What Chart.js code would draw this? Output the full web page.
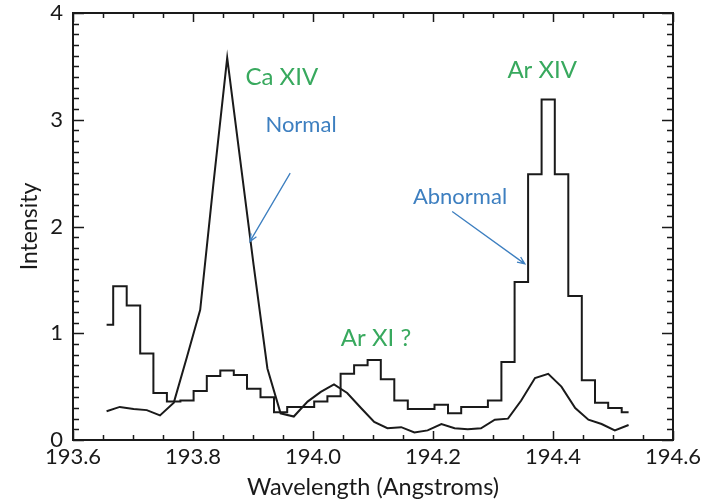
<!DOCTYPE html>
<html>
<head>
<meta charset="utf-8">
<script src="https://cdn.jsdelivr.net/npm/chart.js@4.4.1/dist/chart.umd.min.js"></script>
<style>
  html, body { margin: 0; padding: 0; background: #fff; }
  #wrap { width: 713px; height: 502px; }
</style>
</head>
<body>
<div id="wrap"><canvas id="chart"></canvas></div>
<script>
// wavelength grid (Angstroms), one entry per detector pixel
const wavelengths = [
  193.656, 193.678, 193.701, 193.723, 193.745, 193.768, 193.790, 193.812, 193.834, 193.857,
  193.879, 193.901, 193.924, 193.946, 193.968, 193.991, 194.013, 194.035, 194.057, 194.080,
  194.102, 194.124, 194.147, 194.169, 194.191, 194.214, 194.236, 194.258, 194.280, 194.303,
  194.325, 194.347, 194.370, 194.392, 194.414, 194.437, 194.459, 194.481, 194.503, 194.526
];
// "Normal" spectrum (plain line)
const normal = [
  0.27, 0.31, 0.29, 0.28, 0.23, 0.35, 0.78, 1.22, 2.40, 3.58,
  2.61, 1.64, 0.67, 0.25, 0.22, 0.36, 0.45, 0.52, 0.44, 0.30,
  0.17, 0.11, 0.12, 0.07, 0.09, 0.15, 0.11, 0.10, 0.11, 0.19,
  0.20, 0.37, 0.58, 0.62, 0.50, 0.30, 0.19, 0.15, 0.09, 0.14
];
// "Abnormal" spectrum (histogram steps)
const abnormal = [
  1.08, 1.44, 1.26, 0.81, 0.44, 0.36, 0.37, 0.46, 0.60, 0.65,
  0.61, 0.48, 0.40, 0.26, 0.31, 0.31, 0.36, 0.41, 0.62, 0.70,
  0.75, 0.57, 0.37, 0.29, 0.29, 0.33, 0.25, 0.31, 0.31, 0.37,
  0.73, 1.48, 2.49, 3.19, 2.49, 1.35, 0.56, 0.35, 0.30, 0.26
];
const xTicks = [193.6, 193.8, 194.0, 194.2, 194.4, 194.6];
const yTicks = [0, 1, 2, 3, 4];

const GREEN = '#38a95e';
const BLUE = '#3d7fc0';
const INK = '#1a1a1a';

// labels placed in data coordinates
const notes = [
  { text: 'Ca XIV', x: 193.948, y: 3.40, color: GREEN, size: 24 },
  { text: 'Ar XIV', x: 194.382, y: 3.46, color: GREEN, size: 24 },
  { text: 'Ar XI ?', x: 194.105, y: 0.955, color: GREEN, size: 24 },
  { text: 'Normal', x: 193.980, y: 2.95, color: BLUE, size: 22 },
  { text: 'Abnormal', x: 194.245, y: 2.28, color: BLUE, size: 22 }
];
const arrows = [
  { from: [193.962, 2.50], to: [193.895, 1.86] },
  { from: [194.232, 2.14], to: [194.353, 1.65] }
];

const frame = {
  id: 'frame',
  afterDatasetsDraw(chart) {
    const { ctx, chartArea: a, scales: { x, y } } = chart;
    ctx.save();
    ctx.strokeStyle = INK;
    ctx.lineWidth = 1.5;
    ctx.beginPath();
    // inward ticks on all four sides
    for (let k = 0; k <= 20; k++) {
      const px = Math.round(x.getPixelForValue(193.6 + k * 0.05)) + 0.5;
      const len = k % 4 === 0 ? 9 : 5;
      ctx.moveTo(px, a.bottom); ctx.lineTo(px, a.bottom - len);
      ctx.moveTo(px, a.top); ctx.lineTo(px, a.top + len);
    }
    for (let k = 0; k <= 40; k++) {
      const py = Math.round(y.getPixelForValue(k * 0.1)) + 0.5;
      const len = k % 10 === 0 ? 11 : 6;
      ctx.moveTo(a.left, py); ctx.lineTo(a.left + len, py);
      ctx.moveTo(a.right, py); ctx.lineTo(a.right - len, py);
    }
    ctx.stroke();
    ctx.lineWidth = 2;
    ctx.strokeRect(a.left, a.top, a.right - a.left, a.bottom - a.top);

    // arrows
    ctx.strokeStyle = BLUE;
    ctx.lineWidth = 1.3;
    arrows.forEach(ar => {
      const x0 = x.getPixelForValue(ar.from[0]), y0 = y.getPixelForValue(ar.from[1]);
      const x1 = x.getPixelForValue(ar.to[0]), y1 = y.getPixelForValue(ar.to[1]);
      const ang = Math.atan2(y1 - y0, x1 - x0);
      ctx.beginPath();
      ctx.moveTo(x0, y0); ctx.lineTo(x1, y1);
      ctx.moveTo(x1 - 8 * Math.cos(ang - 0.4), y1 - 8 * Math.sin(ang - 0.4));
      ctx.lineTo(x1, y1);
      ctx.lineTo(x1 - 8 * Math.cos(ang + 0.4), y1 - 8 * Math.sin(ang + 0.4));
      ctx.stroke();
    });

    // text notes
    ctx.textAlign = 'center';
    ctx.textBaseline = 'middle';
    notes.forEach(n => {
      ctx.fillStyle = n.color;
      ctx.font = n.size + 'px Lato';
      ctx.fillText(n.text, x.getPixelForValue(n.x), y.getPixelForValue(n.y));
    });
    ctx.restore();
  }
};

const ctx = document.getElementById('chart').getContext('2d');
new Chart(ctx, {
  type: 'line',
  data: {
    datasets: [{
      label: 'Normal',
      data: wavelengths.map((w, i) => ({ x: w, y: normal[i] })),
      borderColor: INK,
      borderWidth: 2,
      pointRadius: 0,
      tension: 0,
      fill: false
    }, {
      label: 'Abnormal',
      data: wavelengths.map((w, i) => ({ x: w, y: abnormal[i] })),
      borderColor: INK,
      borderWidth: 2,
      pointRadius: 0,
      stepped: 'middle',
      fill: false
    }]
  },
  options: {
    responsive: true,
    maintainAspectRatio: false,
    animation: false,
    layout: { padding: { left: 0, right: 40, top: 13, bottom: 0 } },
    plugins: { legend: { display: false }, tooltip: { enabled: false } },
    scales: {
      x: {
        type: 'linear',
        min: 193.6,
        max: 194.6,
        afterBuildTicks: s => { s.ticks = xTicks.map(v => ({ value: v })); },
        afterFit: s => { s.height = 62; s.paddingLeft = 0; s.paddingRight = 0; },
        grid: { display: false, drawTicks: false },
        border: { display: false },
        ticks: {
          callback: v => v.toFixed(1),
          font: { family: 'Lato', size: 22 },
          color: INK,
          padding: 4,
          maxRotation: 0,
          autoSkip: false
        },
        title: {
          display: true,
          text: 'Wavelength (Angstroms)',
          font: { family: 'Lato', size: 23.5 },
          color: INK,
          padding: { top: 0, bottom: 0 }
        }
      },
      y: {
        min: 0,
        max: 4,
        afterBuildTicks: s => { s.ticks = yTicks.map(v => ({ value: v })); },
        afterFit: s => { s.width = 73; s.paddingTop = 0; s.paddingBottom = 0; },
        grid: { display: false, drawTicks: false },
        border: { display: false },
        ticks: {
          font: { family: 'Lato', size: 22 },
          color: INK,
          padding: 10
        },
        title: {
          display: true,
          text: 'Intensity',
          font: { family: 'Lato', size: 23 },
          color: INK,
          padding: { top: 16, bottom: 0 }
        }
      }
    }
  },
  plugins: [frame]
});
</script>
</body>
</html>
